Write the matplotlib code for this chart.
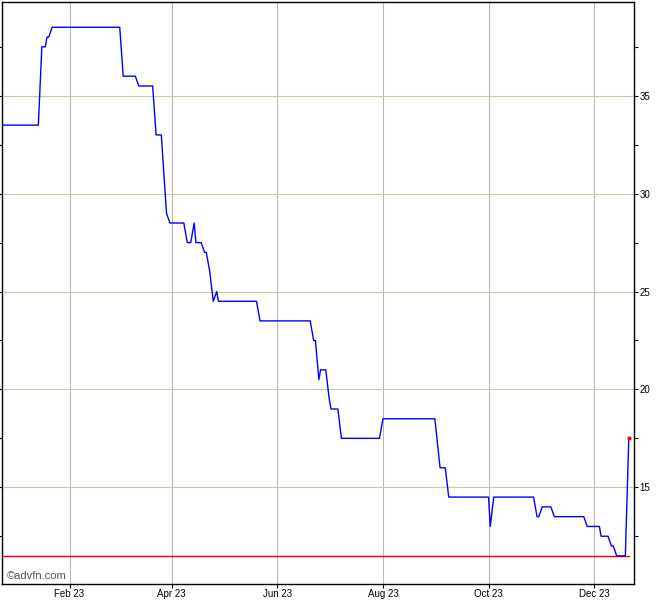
import matplotlib
matplotlib.use("Agg")
import matplotlib.pyplot as plt
import pandas as pd

plt.rcParams['font.family'] = ['Liberation Sans', 'DejaVu Sans']

# ---- data ----
dates = [
    "2022-12-24", "2023-01-14", "2023-01-16", "2023-01-18", "2023-01-19",
    "2023-01-20", "2023-01-22", "2023-03-02", "2023-03-04", "2023-03-11",
    "2023-03-13", "2023-03-21", "2023-03-23", "2023-03-26", "2023-03-29",
    "2023-03-31", "2023-04-08", "2023-04-10", "2023-04-12", "2023-04-14",
    "2023-04-15", "2023-04-18", "2023-04-20", "2023-04-21", "2023-04-23",
    "2023-04-25", "2023-04-27", "2023-04-28", "2023-05-20", "2023-05-22",
    "2023-06-20", "2023-06-22", "2023-06-23", "2023-06-25", "2023-06-26",
    "2023-06-29", "2023-07-01", "2023-07-02", "2023-07-06", "2023-07-08",
    "2023-07-30", "2023-08-01", "2023-08-31", "2023-09-03", "2023-09-06",
    "2023-09-08", "2023-10-01", "2023-10-02", "2023-10-04", "2023-10-27",
    "2023-10-29", "2023-10-30", "2023-11-01", "2023-11-06", "2023-11-08",
    "2023-11-25", "2023-11-27", "2023-12-04", "2023-12-05", "2023-12-09",
    "2023-12-11", "2023-12-12", "2023-12-14", "2023-12-19", "2023-12-21",
]
prices = [
    33.5, 33.5, 37.5, 37.5, 38.0,
    38.0, 38.5, 38.5, 36.0, 36.0,
    35.5, 35.5, 33.0, 33.0, 29.0,
    28.5, 28.5, 27.5, 27.5, 28.5,
    27.5, 27.5, 27.0, 27.0, 26.0,
    24.5, 25.0, 24.5, 24.5, 23.5,
    23.5, 22.5, 22.5, 20.5, 21.0,
    21.0, 19.5, 19.0, 19.0, 17.5,
    17.5, 18.5, 18.5, 16.0, 16.0,
    14.5, 14.5, 13.0, 14.5, 14.5,
    13.5, 13.5, 14.0, 14.0, 13.5,
    13.5, 13.0, 13.0, 12.5, 12.5,
    12.0, 12.0, 11.5, 11.5, 17.5,
]
low_value = 11.5

x_tick_dates = ["2023-02-01", "2023-04-01", "2023-06-01",
                "2023-08-01", "2023-10-01", "2023-12-01"]
x_tick_labels = ["Feb 23", "Apr 23", "Jun 23", "Aug 23", "Oct 23", "Dec 23"]
y_ticks = [15, 20, 25, 30, 35]
y_minor_ticks = [12.5, 17.5, 22.5, 27.5, 32.5, 37.5]
x_range = ["2022-12-24", "2023-12-24"]
y_range = [10.06, 39.79]

# ---- figure ----
W, H = 670, 600
fig = plt.figure(figsize=(W / 100, H / 100), dpi=100)
ax = fig.add_axes([2 / W, 16 / H, 632 / W, 582 / H])

d = pd.to_datetime(dates)
xr = pd.to_datetime(x_range)

# low line (red)
ax.plot([xr[0], d[-1]], [low_value, low_value], color="#ff0000", lw=1.0, zorder=3)
# price line
ax.plot(d, prices, color="#0000ff", lw=1.0, zorder=4)
# last point marker
ax.plot([d[-1]], [prices[-1]], marker="o", color="#ff0000", ms=3, mec="none", zorder=5)

ax.set_xlim(xr[0], xr[1])
ax.set_ylim(*y_range)

ax.set_xticks(pd.to_datetime(x_tick_dates))
ax.set_xticklabels(x_tick_labels)
ax.set_yticks(y_ticks)
ax.set_yticks(y_minor_ticks, minor=True)

ax.yaxis.tick_right()
ax.tick_params(axis="y", which="both", left=True, right=True,
               labelleft=False, labelright=True, direction="out",
               length=3, width=0.8, labelsize=7, pad=0.8)
ax.tick_params(axis="x", which="major", direction="out", length=3,
               width=0.8, labelsize=7, pad=0.8)

ax.grid(True, axis="x", which="major", color="#b8b8b8", lw=0.8, zorder=1)
ax.grid(True, axis="y", which="major", color="#c8c8a4", lw=0.8, zorder=1)
ax.set_axisbelow(True)

for s in ax.spines.values():
    s.set_color("black")
    s.set_linewidth(1.0)

ax.text(0.007, 0.008, "\u00a9advfn.com", transform=ax.transAxes,
        fontsize=8, color="#555555", ha="left", va="baseline")

fig.savefig("out.png", dpi=100)
